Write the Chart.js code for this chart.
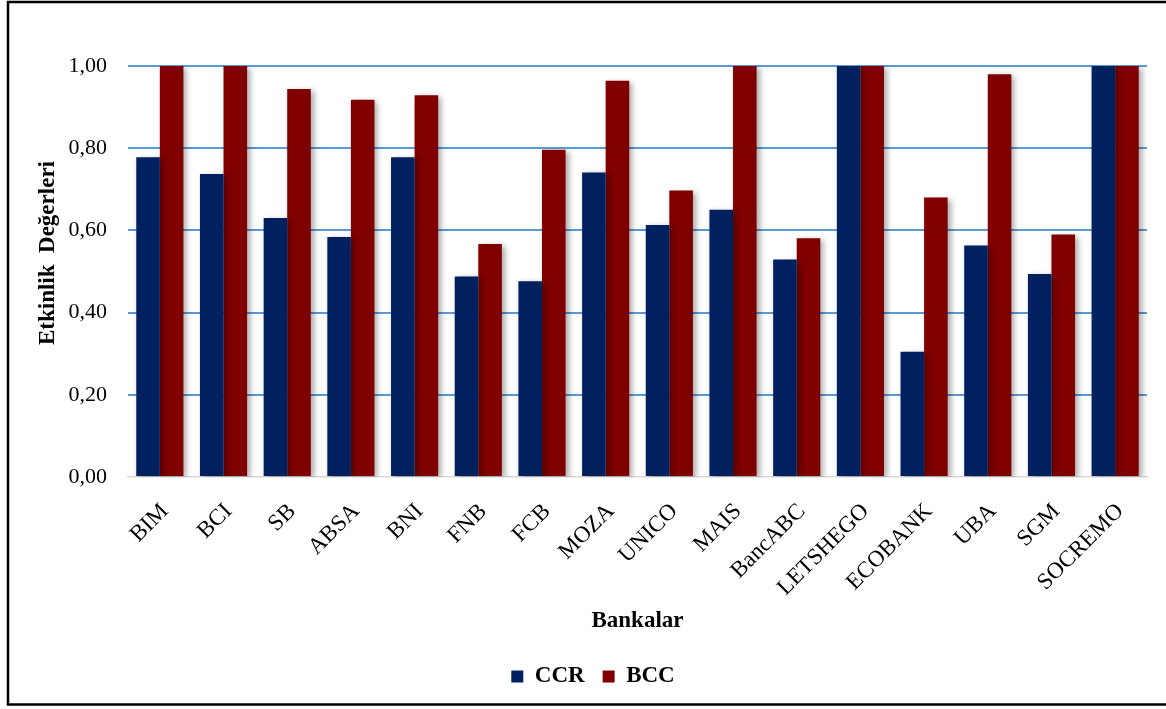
<!DOCTYPE html>
<html>
<head>
<meta charset="utf-8">
<script src="https://cdn.jsdelivr.net/npm/chart.js@4"></script>
<style>
  html, body { margin: 0; padding: 0; background: #fff; }
  #wrap { width: 1166px; height: 709px; }
</style>
</head>
<body>
<div id="wrap"><canvas id="effChart" width="1166" height="709"></canvas></div>
<script>
// Etkinlik değerleri - CCR / BCC
const banks = ['BIM', 'BCI', 'SB', 'ABSA', 'BNI', 'FNB', 'FCB', 'MOZA', 'UNICO', 'MAIS',
    'BancABC', 'LETSHEGO', 'ECOBANK', 'UBA', 'SGM', 'SOCREMO'];
const ccrValues = [0.778, 0.737, 0.630, 0.584, 0.778, 0.488, 0.476, 0.741, 0.613, 0.650,
    0.529, 1.000, 0.305, 0.563, 0.494, 1.000];
const bccValues = [1.000, 1.000, 0.944, 0.918, 0.929, 0.567, 0.796, 0.964, 0.697, 1.000,
    0.581, 1.000, 0.680, 0.980, 0.590, 1.000];
const yTickLabels = ['0,00', '0,20', '0,40', '0,60', '0,80', '1,00'];

const serif = "'Liberation Serif', 'Times New Roman', serif";

// white background + black frame
const frame = {
    id: 'frame',
    beforeDraw(chart) {
        const c = chart.ctx;
        c.save();
        c.fillStyle = '#fff';
        c.fillRect(0, 0, chart.width, chart.height);
        c.strokeStyle = '#000';
        c.lineWidth = 2.5;
        c.strokeRect(8, 2, chart.width + 20, 702.5);
        c.restore();
    }
};

// soft shadow under the bars
const barShadow = {
    id: 'barShadow',
    beforeDatasetsDraw(chart) {
        const c = chart.ctx;
        c.save();
        c.shadowColor = 'rgba(0, 0, 0, 0.35)';
        c.shadowBlur = 6;
        c.shadowOffsetX = 3;
        c.shadowOffsetY = 2;
    },
    afterDatasetsDraw(chart) {
        chart.ctx.restore();
    }
};

// vertical axis title
const yTitle = {
    id: 'yTitle',
    afterDraw(chart) {
        const c = chart.ctx;
        c.save();
        c.translate(48, 253);
        c.rotate(-Math.PI / 2);
        c.font = 'bold 23px ' + serif;
        c.textAlign = 'center';
        c.textBaseline = 'middle';
        c.fillStyle = '#000';
        c.fillText('Etkinlik  Değerleri', 0, 0);
        c.restore();
    }
};

new Chart(document.getElementById('effChart'), {
    type: 'bar',
    data: {
        labels: banks,
        datasets: [{
            label: 'CCR',
            data: ccrValues,
            backgroundColor: '#002060',
            categoryPercentage: 0.74,
            barPercentage: 1.0
        }, {
            label: 'BCC',
            data: bccValues,
            backgroundColor: '#800000',
            categoryPercentage: 0.74,
            barPercentage: 1.0
        }]
    },
    plugins: [frame, barShadow, yTitle],
    options: {
        responsive: false,
        animation: false,
        layout: {
            padding: { left: 39, right: 19, top: 66, bottom: 11 }
        },
        plugins: {
            legend: {
                position: 'bottom',
                fullSize: true,
                labels: {
                    boxWidth: 12,
                    boxHeight: 12,
                    padding: 18,
                    color: '#000',
                    font: { family: serif, size: 23, weight: 'bold' }
                }
            },
            tooltip: { enabled: false }
        },
        scales: {
            y: {
                min: 0,
                max: 1,
                afterFit(scale) { scale.width = 89; },
                ticks: {
                    stepSize: 0.2,
                    padding: 21,
                    color: '#000',
                    font: { family: serif, size: 22 },
                    callback: (value, index) => yTickLabels[index]
                },
                grid: {
                    drawTicks: false,
                    lineWidth: 2,
                    color: (ctx) => ctx.tick.value === 0 ? 'rgba(0,0,0,0)' : '#5B9BD5'
                },
                border: { display: false }
            },
            x: {
                afterFit(scale) { scale.height = 170; },
                ticks: {
                    autoSkip: false,
                    minRotation: 45,
                    maxRotation: 45,
                    padding: 13,
                    labelOffset: 5,
                    color: '#000',
                    font: { family: serif, size: 23 }
                },
                grid: { display: false },
                border: { display: true, color: '#d9d9d9', width: 1.5 },
                title: {
                    display: true,
                    text: 'Bankalar',
                    color: '#000',
                    padding: { top: 0, bottom: 12 },
                    font: { family: serif, size: 23, weight: 'bold' }
                }
            }
        }
    }
});
</script>
</body>
</html>
